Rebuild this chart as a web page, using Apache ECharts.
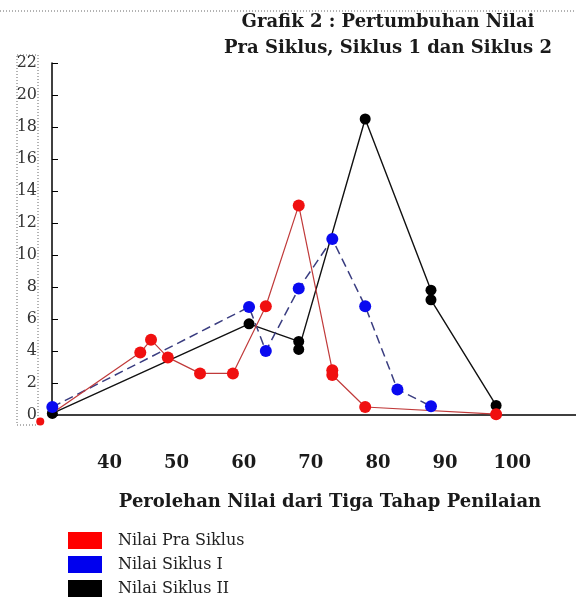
<!DOCTYPE html>
<html>
<head>
<meta charset="utf-8">
<script src="https://cdn.jsdelivr.net/npm/echarts@6/dist/echarts.min.js"></script>
<style>html,body{margin:0;padding:0;background:#fff}#c{width:576px;height:600px}</style>
</head>
<body>
<div id="c"></div>
<script>
// ---- data ----
const titleText = 'Grafik 2 : Pertumbuhan Nilai\nPra Siklus, Siklus 1 dan Siklus 2';
const xAxisName = 'Perolehan Nilai dari Tiga Tahap Penilaian';
const xTickLabels = [40, 50, 60, 70, 80, 90, 100];
const yMin = 0, yMax = 22, yStep = 2;
const seriesNames = ['Nilai Pra Siklus', 'Nilai Siklus I', 'Nilai Siklus II'];

const praX = [29.7, 44.6, 46.2, 48.7, 53.5, 58.4, 63.3, 68.2, 73.2, 73.2, 78.1, 97.6];
const praY = [-0.4, 3.9, 4.7, 3.6, 2.6, 2.6, 6.8, 13.1, 2.8, 2.5, 0.5, 0.05];

const s1X = [31.5, 60.8, 63.3, 68.2, 73.2, 78.1, 82.9, 87.9];
const s1Y = [0.5, 6.75, 4.0, 7.9, 11.0, 6.8, 1.6, 0.55];

const s2X = [31.5, 60.8, 68.2, 68.2, 78.1, 87.9, 87.9, 97.6];
const s2Y = [0.1, 5.7, 4.6, 4.1, 18.5, 7.8, 7.2, 0.6];

const zip = (xs, ys) => xs.map((x, i) => [x, ys[i]]);

const serif = 'DejaVu Serif';
const chart = echarts.init(document.getElementById('c'), null, {renderer: 'canvas'});
chart.setOption({
  animation: false,
  backgroundColor: '#fff',
  title: {
    text: titleText,
    left: 383, top: 4, textAlign: 'center',
    textStyle: {fontFamily: serif, fontWeight: 'bold', fontSize: 18, lineHeight: 26, color: '#1a1a1a'}
  },
  legend: {
    orient: 'vertical', left: 68, top: 532, padding: 0,
    itemWidth: 34, itemHeight: 17, itemGap: 7,
    icon: 'rect',
    textStyle: {fontFamily: serif, fontSize: 16, color: '#222', padding: [0, 0, 0, 11]},
    data: [
      {name: seriesNames[0], itemStyle: {color: '#ff0000'}},
      {name: seriesNames[1], itemStyle: {color: '#0000ee'}},
      {name: seriesNames[2], itemStyle: {color: '#000000'}}
    ]
  },
  grid: {left: 52, right: 0, top: 63, bottom: 185},
  xAxis: {
    type: 'value', min: 31.45, max: 109.5,
    axisLine: {lineStyle: {color: '#000', width: 1.5}},
    axisTick: {show: false},
    splitLine: {show: false},
    axisLabel: {
      customValues: xTickLabels, margin: 39,
      fontFamily: serif, fontWeight: 'bold', fontSize: 18, color: '#1a1a1a'
    },
    name: xAxisName, nameLocation: 'middle', nameGap: 78,
    nameTextStyle: {fontFamily: serif, fontWeight: 'bold', fontSize: 18, color: '#1a1a1a', padding: [0, 0, 0, 32]}
  },
  yAxis: {
    type: 'value', min: yMin, max: yMax, interval: yStep,
    axisLine: {show: true, lineStyle: {color: '#000', width: 1.5}},
    axisTick: {show: true, inside: true, length: 6, lineStyle: {color: '#000'}},
    splitLine: {show: false},
    axisLabel: {margin: 15, fontFamily: serif, fontSize: 16, color: '#333'}
  },
  graphic: [
    {type: 'line', shape: {x1: 0, y1: 11, x2: 576, y2: 11}, style: {stroke: '#666', lineWidth: 1, lineDash: [1, 2]}},
    {type: 'rect', shape: {x: 17, y: 55, width: 21, height: 370}, style: {fill: null, stroke: '#666', lineWidth: 1, lineDash: [1, 2]}}
  ],
  series: [
    {
      name: seriesNames[2], type: 'line', data: zip(s2X, s2Y),
      symbol: 'circle', symbolSize: 11,
      itemStyle: {color: '#000'},
      lineStyle: {color: '#111', width: 1.4}
    },
    {
      name: seriesNames[1], type: 'line', data: zip(s1X, s1Y),
      symbol: 'circle', symbolSize: 12,
      itemStyle: {color: '#0a0af0'},
      lineStyle: {color: '#3a3d80', width: 1.5, type: [9, 5]}
    },
    {
      name: seriesNames[0], type: 'line', data: zip(praX, praY),
      clip: false,
      symbol: 'circle',
      symbolSize: (v, p) => (p.dataIndex === 0 ? 8 : 12),
      itemStyle: {color: '#f01010'},
      lineStyle: {color: '#c03a3a', width: 1.2}
    }
  ]
});
</script>
</body>
</html>
